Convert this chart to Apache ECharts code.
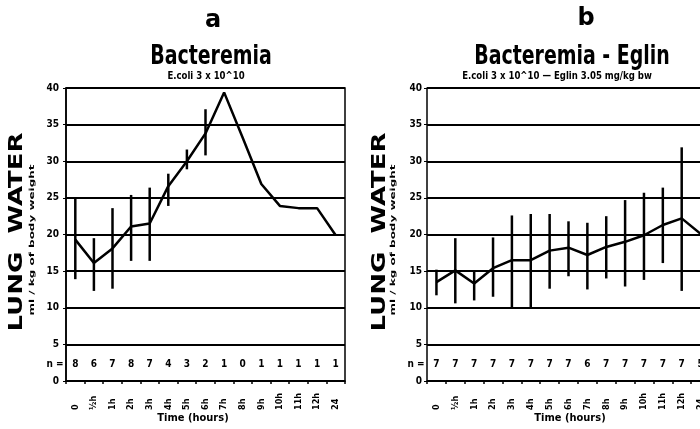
<!DOCTYPE html>
<html>
<head>
<meta charset="utf-8">
<script src="https://cdn.jsdelivr.net/npm/echarts@6.0.0/dist/echarts.min.js"></script>
<style>
html,body{margin:0;padding:0;background:#fff;}
#main{width:700px;height:429px;}
</style>
</head>
<body>
<div id="main"></div>
<script>
// time points (hours) - same for both panels
var hours = ['0', '½h', '1h', '2h', '3h', '4h', '5h', '6h', '7h', '8h', '9h', '10h', '11h', '12h', '24'];

// panel a : bacteremia
var meanA = [19.3, 16.1, 18.1, 21.1, 21.5, 26.6, 30.0, 33.8, 39.4, 33.2, 26.9, 23.9, 23.6, 23.6, 19.9];
var lowA  = [13.9, 12.3, 12.6, 16.4, 16.4, 23.9, 28.9, 30.8, null, null, null, null, null, null, null];
var highA = [24.9, 19.5, 23.6, 25.4, 26.4, 28.3, 31.6, 37.1, null, null, null, null, null, null, null];
var nA    = ['8', '6', '7', '8', '7', '4', '3', '2', '1', '0', '1', '1', '1', '1', '1'];

// panel b : bacteremia - eglin
var meanB = [13.5, 15.1, 13.3, 15.4, 16.5, 16.5, 17.8, 18.2, 17.2, 18.3, 19.0, 19.9, 21.3, 22.2, 20.1];
var lowB  = [11.7, 10.6, 11.0, 11.5, 10.1, 10.1, 12.6, 14.3, 12.5, 14.0, 12.9, 13.8, 16.1, 12.3, null];
var highB = [15.2, 19.5, 15.0, 19.6, 22.6, 22.8, 22.8, 21.8, 21.6, 22.5, 24.7, 25.7, 26.4, 31.9, null];
var nB    = ['7', '7', '7', '7', '7', '7', '7', '7', '6', '7', '7', '7', '7', '7', '5'];

var nRowY = 2.3;
var FONT = '"DejaVu Sans Condensed", "DejaVu Sans", sans-serif';

function errData(lo, hi) {
    var out = [];
    for (var i = 0; i < lo.length; i++) {
        if (lo[i] != null) out.push([i, lo[i], hi[i]]);
    }
    return out;
}

function renderErr(params, api) {
    var p1 = api.coord([api.value(0), api.value(1)]);
    var p2 = api.coord([api.value(0), api.value(2)]);
    return {
        type: 'line',
        shape: {x1: p1[0], y1: p1[1], x2: p2[0], y2: p2[1]},
        style: {stroke: '#000', lineWidth: 2.5}
    };
}

function nData(arr) {
    return arr.map(function (v, i) { return [i, nRowY, v]; });
}

function renderN(params, api) {
    var p = api.coord([api.value(0), api.value(1)]);
    return {
        type: 'text',
        x: p[0], y: p[1],
        style: {
            text: String(api.value(2)),
            font: 'bold 10px ' + FONT,
            fill: '#000',
            textAlign: 'center',
            textVerticalAlign: 'middle'
        }
    };
}

function xAxisFor(idx) {
    return {
        gridIndex: idx,
        type: 'category',
        data: hours,
        boundaryGap: true,
        axisLine: {lineStyle: {color: '#000', width: 1.5}},
        axisTick: {show: true, length: 3, lineStyle: {color: '#000', width: 1.5}},
        axisLabel: {
            rotate: 90, align: 'left', margin: 29, interval: 0,
            color: '#000', fontSize: 9, fontWeight: 'bold', fontFamily: FONT
        },
        splitLine: {show: false}
    };
}

function yAxisFor(idx, margin) {
    return {
        gridIndex: idx,
        type: 'value',
        min: 0, max: 40, interval: 5,
        axisLine: {show: true, lineStyle: {color: '#000', width: 1.5}},
        axisTick: {show: true, length: 3, lineStyle: {color: '#000'}},
        axisLabel: {margin: margin, color: '#000', fontSize: 10, fontWeight: 'bold', fontFamily: FONT},
        splitLine: {show: true, lineStyle: {color: '#000', width: 2}}
    };
}

function txt(x, y, text, size, opts) {
    opts = opts || {};
    return {
        type: 'text',
        x: x, y: y,
        rotation: opts.rotation || 0,
        scaleX: opts.scaleX || 1,
        scaleY: opts.scaleY || 1,
        style: {
            text: text,
            font: 'bold ' + size + 'px ' + (opts.family || FONT),
            fill: '#000',
            textAlign: 'center',
            textVerticalAlign: 'middle'
        }
    };
}

var chart = echarts.init(document.getElementById('main'));

var option = {
    backgroundColor: '#fff',
    animation: false,
    grid: [
        {left: 66, top: 88, width: 279, height: 293, outerBoundsMode: 'none',
         show: true, borderColor: '#000', borderWidth: 1.5},
        {left: 427, top: 88, width: 283, height: 293, outerBoundsMode: 'none'}
    ],
    xAxis: [xAxisFor(0), xAxisFor(1)],
    yAxis: [yAxisFor(0, 7), yAxisFor(1, 5)],
    graphic: [
        txt(213, 21, 'a', 24, {family: '"DejaVu Sans", sans-serif'}),
        txt(211, 57, 'Bacteremia', 27, {scaleX: 0.78}),
        txt(206, 76, 'E.coli 3 x 10^10', 10, {scaleX: 0.95}),
        txt(586, 19, 'b', 24, {family: '"DejaVu Sans", sans-serif'}),
        txt(572, 57, 'Bacteremia - Eglin', 27, {scaleX: 0.78}),
        txt(557, 76, 'E.coli 3 x 10^10 \u2014 Eglin 3.05 mg/kg bw', 10, {scaleX: 0.95}),
        txt(17, 232, 'LUNG  WATER', 20, {rotation: Math.PI / 2, scaleX: 1.3, family: '"DejaVu Sans", sans-serif'}),
        txt(32, 240, 'ml / kg of body weight', 7, {rotation: Math.PI / 2, scaleX: 1.9}),
        txt(380, 232, 'LUNG  WATER', 20, {rotation: Math.PI / 2, scaleX: 1.3, family: '"DejaVu Sans", sans-serif'}),
        txt(393, 240, 'ml / kg of body weight', 7, {rotation: Math.PI / 2, scaleX: 1.9}),
        txt(55, 364, 'n =', 10),
        txt(416, 364, 'n =', 10),
        txt(193, 418, 'Time (hours)', 11),
        txt(570, 418, 'Time (hours)', 11)
    ],
    series: [
        {
            type: 'line', xAxisIndex: 0, yAxisIndex: 0, data: meanA,
            showSymbol: false, lineStyle: {color: '#000', width: 2.5}
        },
        {
            type: 'custom', xAxisIndex: 0, yAxisIndex: 0,
            data: errData(lowA, highA), renderItem: renderErr
        },
        {
            type: 'custom', xAxisIndex: 0, yAxisIndex: 0,
            data: nData(nA), renderItem: renderN
        },
        {
            type: 'line', xAxisIndex: 1, yAxisIndex: 1, data: meanB,
            showSymbol: false, lineStyle: {color: '#000', width: 2.5}
        },
        {
            type: 'custom', xAxisIndex: 1, yAxisIndex: 1,
            data: errData(lowB, highB), renderItem: renderErr
        },
        {
            type: 'custom', xAxisIndex: 1, yAxisIndex: 1,
            data: nData(nB), renderItem: renderN
        }
    ]
};

chart.setOption(option);
</script>
</body>
</html>
